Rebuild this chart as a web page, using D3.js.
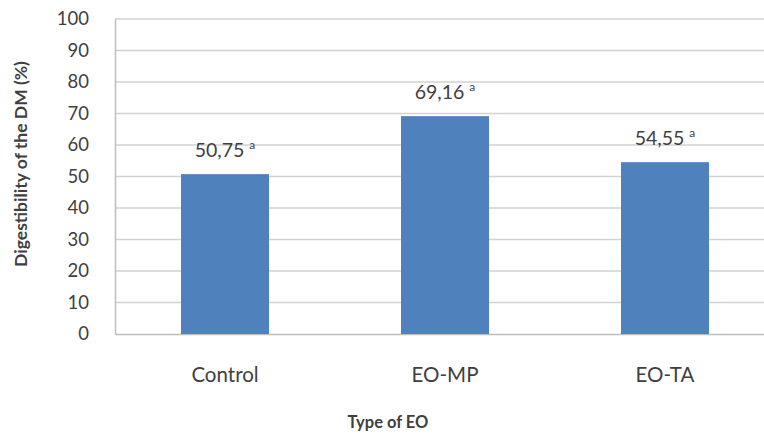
<!DOCTYPE html>
<html>
<head>
<meta charset="utf-8">
<script src="https://cdn.jsdelivr.net/npm/d3@7"></script>
<style>
  html, body { margin: 0; padding: 0; background: #fff; }
  svg { display: block; font-family: Lato, "Open Sans", sans-serif; }
</style>
</head>
<body>
<svg id="chart" width="764" height="436"></svg>
<script>
// Dry matter digestibility by type of essential oil
const categories = ["Control", "EO-MP", "EO-TA"];
const values = [50.75, 69.16, 54.55];
const valueLabels = ["50,75", "69,16", "54,55"];
const letters = ["a", "a", "a"];
const yTicks = [0, 10, 20, 30, 40, 50, 60, 70, 80, 90, 100];

const svg = d3.select("#chart");
const margin = { left: 115, right: -11, top: 19, bottom: 102 };
const width = 764 - margin.left - margin.right;
const height = 436 - margin.top - margin.bottom;
const textColor = "#3f3f3f";

const g = svg.append("g").attr("transform", `translate(${margin.left},${margin.top})`);

const x = d3.scaleBand().domain(categories).range([0, width]).paddingInner(0.6).paddingOuter(0.3);
const y = d3.scaleLinear().domain([0, 100]).range([height, 0]);

// horizontal gridlines
g.append("g")
  .selectAll("line")
  .data(yTicks.filter(t => t > 0))
  .join("line")
  .attr("x1", 0).attr("x2", width)
  .attr("y1", d => y(d)).attr("y2", d => y(d))
  .attr("stroke", "#d2d2d2").attr("stroke-width", 1.3);

// y axis
const yAxis = g.append("g")
  .call(d3.axisLeft(y).tickValues(yTicks).tickSize(0).tickPadding(26));
yAxis.select(".domain").attr("stroke", "#bdbdbd").attr("stroke-width", 1.5);
yAxis.selectAll("text")
  .attr("fill", textColor).attr("font-size", 18.5).attr("font-family", "Lato, sans-serif");

// x axis
const xAxis = g.append("g")
  .attr("transform", `translate(0,${height})`)
  .call(d3.axisBottom(x).tickSize(0).tickPadding(33));
xAxis.select(".domain").attr("stroke", "#bdbdbd").attr("stroke-width", 1.5);
xAxis.selectAll("text")
  .attr("fill", textColor).attr("font-size", 20.5).attr("font-family", "Lato, sans-serif");

// bars
g.append("g")
  .selectAll("rect")
  .data(values)
  .join("rect")
  .attr("x", (d, i) => x(categories[i]))
  .attr("width", x.bandwidth())
  .attr("y", d => y(d))
  .attr("height", d => height - y(d))
  .attr("fill", "#4f81bd");

// value labels with significance letters
const lbl = g.append("g")
  .selectAll("text")
  .data(values)
  .join("text")
  .attr("x", (d, i) => x(categories[i]) + x.bandwidth() / 2)
  .attr("y", d => y(d) - 17)
  .attr("text-anchor", "middle")
  .attr("fill", textColor)
  .attr("font-size", 19.5);
lbl.append("tspan").text((d, i) => valueLabels[i] + " ");
lbl.append("tspan")
  .attr("font-size", 12)
  .attr("dy", -8)
  .text((d, i) => letters[i]);

// axis titles
svg.append("text")
  .attr("transform", `translate(27,164) rotate(-90)`)
  .attr("text-anchor", "middle")
  .attr("fill", textColor)
  .attr("font-size", 17.5)
  .attr("font-weight", "bold")
  .text("Digestibility of the DM (%)");

svg.append("text")
  .attr("x", 388)
  .attr("y", 428)
  .attr("text-anchor", "middle")
  .attr("fill", textColor)
  .attr("font-size", 16.5)
  .attr("font-weight", "bold")
  .text("Type of EO");
</script>
</body>
</html>
